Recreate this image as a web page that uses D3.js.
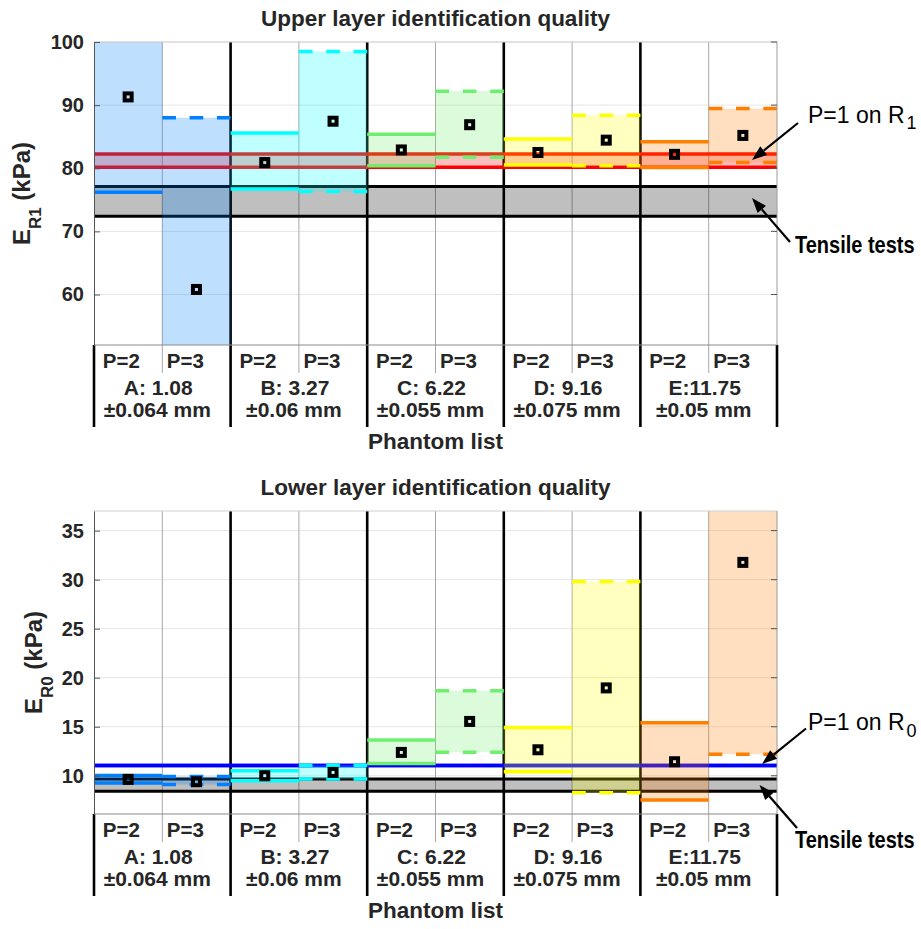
<!DOCTYPE html>
<html><head><meta charset="utf-8">
<script src="https://cdn.jsdelivr.net/npm/d3@7"></script>
<style>
html,body{margin:0;padding:0;background:#fff;}
svg{display:block;font-family:"Liberation Sans",Arial,sans-serif;}
</style></head>
<body>
<svg id="chart" width="921" height="929"></svg>
<script>
// ---------------- data ----------------
const groups = ["A","B","C","D","E"];
const orders = ["P=2","P=3"];
const groupLine1 = ["A: 1.08","B: 3.27","C: 6.22","D: 9.16","E:11.75"];
const groupLine2 = ["±0.064 mm","±0.06 mm","±0.055 mm","±0.075 mm","±0.05 mm"];
const groupColors = ["#0080ff","#00ffff","#6ef06e","#ffff00","#ff8000"];

const upperEst = [91.3, 60.8, 80.9, 87.45, 82.9, 86.9, 82.5, 84.45, 82.2, 85.2];
const upperLo  = [76.2, 48.0, 76.7, 76.3, 80.4, 81.75, 80.5, 80.4, 80.1, 80.9];
const upperHi  = [104.0, 88.0, 85.6, 98.5, 85.4, 92.2, 84.65, 88.4, 84.2, 89.45];
const upperTicks = [60, 70, 80, 90, 100];
const upperTensile = [72.4, 77.1];
const upperP1 = [80.15, 82.25];

const lowerEst = [9.63, 9.39, 10.0, 10.34, 12.38, 15.54, 12.65, 18.96, 11.43, 31.76];
const lowerLo  = [9.26, 9.1, 9.5, 9.66, 11.25, 12.41, 10.4, 8.27, 7.53, 12.2];
const lowerHi  = [10.02, 9.93, 10.5, 11.06, 13.64, 18.66, 14.93, 29.8, 15.4, 40.0];
const lowerTicks = [10, 15, 20, 25, 30, 35];
const lowerTensile = [8.41, 9.66];
const lowerP1 = [11.05, 11.05];

// ---------------- layout ----------------
const svg = d3.select("#chart");
const X0 = 94, X1 = 777;
const cols = groups.flatMap(g => orders.map(o => g + o));
const x = d3.scaleBand().domain(cols).range([X0, X1]).padding(0);
const gx = d3.scaleBand().domain(groups).range([X0, X1]).padding(0);
const TXT = "#262626";

const panels = [
  {top:42, bottom:345, domain:[52,100], ticks:upperTicks, est:upperEst, lo:upperLo, hi:upperHi,
   tensile:upperTensile, p1:upperP1, p1Color:"#ff0000", p1Fill:"rgba(255,0,0,0.25)",
   title:"Upper layer identification quality", ysub:"R1", ylabX:30, ysubDy:11,
   p1Label:{x:808, y:123.3, sub:"1", dy:6}, p1Arrow:[[798,123],[752,160]],
   tLabel:{x:795, y:253}, tArrow:[[790,242],[752,198]]},
  {top:511, bottom:814, domain:[6.1,37], ticks:lowerTicks, est:lowerEst, lo:lowerLo, hi:lowerHi,
   tensile:lowerTensile, p1:lowerP1, p1Color:"#0000ff", p1Fill:"rgba(0,0,255,0.25)",
   title:"Lower layer identification quality", ysub:"R0", ylabX:41.7, ysubDy:11,
   p1Label:{x:808, y:730, sub:"0", dy:6.5}, p1Arrow:[[806,728.5],[762,764]],
   tLabel:{x:795, y:848}, tArrow:[[797,828],[759.5,785]]}
];

function arrow(g, from, to) {
  const [x1,y1] = from, [x2,y2] = to;
  const ang = Math.atan2(y2-y1, x2-x1);
  const L = 15, W = 5.5;
  const bx = x2 - L*Math.cos(ang), by = y2 - L*Math.sin(ang);
  g.append("line").attr("x1",x1).attr("y1",y1).attr("x2",bx).attr("y2",by)
    .attr("stroke","#000").attr("stroke-width",2.2);
  const px = -Math.sin(ang), py = Math.cos(ang);
  g.append("path").attr("d",`M${x2},${y2}L${bx+px*W},${by+py*W}L${bx-px*W},${by-py*W}Z`)
    .attr("fill","#000");
}

panels.forEach((p, pi) => {
  const y = d3.scaleLinear().domain(p.domain).range([p.bottom, p.top]);
  const g = svg.append("g");
  const clipId = "clip" + pi;
  svg.append("defs").append("clipPath").attr("id", clipId)
    .append("rect").attr("x", X0).attr("y", p.top).attr("width", X1 - X0).attr("height", p.bottom - p.top);

  // horizontal grid
  g.append("g").selectAll("line").data(p.ticks).join("line")
    .attr("x1", X0).attr("x2", X1).attr("y1", d => y(d)).attr("y2", d => y(d))
    .attr("stroke", "#e6e6e6").attr("stroke-width", 1);

  // sub-dividers (between P=2 and P=3)
  g.append("g").selectAll("line").data(groups).join("line")
    .attr("x1", d => x(d + orders[1])).attr("x2", d => x(d + orders[1]))
    .attr("y1", p.top).attr("y2", p.bottom + 28)
    .attr("stroke", "#a8a8a8").attr("stroke-width", 1);

  // group dividers (thick black) including outer edges below plot
  g.append("g").selectAll("line").data(groups.slice(1)).join("line")
    .attr("x1", d => gx(d)).attr("x2", d => gx(d))
    .attr("y1", p.top).attr("y2", p.bottom + 82)
    .attr("stroke", "#000").attr("stroke-width", 2.6);
  g.append("g").selectAll("line").data([X0, X1]).join("line")
    .attr("x1", d => d).attr("x2", d => d)
    .attr("y1", p.bottom).attr("y2", p.bottom + 82)
    .attr("stroke", "#000").attr("stroke-width", 2.6);

  const c = g.append("g").attr("clip-path", `url(#${clipId})`);
  // tensile band
  c.append("rect").attr("x", X0).attr("width", X1 - X0)
    .attr("y", y(p.tensile[1])).attr("height", y(p.tensile[0]) - y(p.tensile[1]))
    .attr("fill", "rgba(0,0,0,0.25)");
  c.append("g").selectAll("line").data(p.tensile).join("line")
    .attr("x1", X0).attr("x2", X1).attr("y1", d => y(d)).attr("y2", d => y(d))
    .attr("stroke", "#000").attr("stroke-width", 3);
  // P=1 band
  c.append("rect").attr("x", X0).attr("width", X1 - X0)
    .attr("y", y(p.p1[1])).attr("height", Math.max(0, y(p.p1[0]) - y(p.p1[1])))
    .attr("fill", p.p1Fill);
  c.append("g").selectAll("line").data(p.p1).join("line")
    .attr("x1", X0).attr("x2", X1).attr("y1", d => y(d)).attr("y2", d => y(d))
    .attr("stroke", p.p1Color).attr("stroke-width", 3.5);

  // boxes
  const boxes = cols.map((k, i) => ({k, i, gi: Math.floor(i/2), dashed: i % 2 === 1,
    est: p.est[i], lo: p.lo[i], hi: p.hi[i]}));
  c.append("g").selectAll("rect").data(boxes).join("rect")
    .attr("x", d => x(d.k)).attr("width", x.bandwidth())
    .attr("y", d => y(d.hi)).attr("height", d => y(d.lo) - y(d.hi))
    .attr("fill", d => groupColors[d.gi]).attr("fill-opacity", 0.25);
  const edges = boxes.flatMap(d => [{...d, v: d.lo}, {...d, v: d.hi}]);
  c.append("g").selectAll("line").data(edges).join("line")
    .attr("x1", d => x(d.k)).attr("x2", d => x(d.k) + x.bandwidth())
    .attr("y1", d => y(d.v)).attr("y2", d => y(d.v))
    .attr("stroke", d => groupColors[d.gi]).attr("stroke-width", 3.5)
    .attr("stroke-dasharray", d => d.dashed ? `${x.bandwidth()/5},${x.bandwidth()/5}` : null);

  // axes frame
  g.append("line").attr("x1", X0).attr("x2", X1).attr("y1", p.top).attr("y2", p.top)
    .attr("stroke", "#d0d0d0").attr("stroke-width", 1);
  g.append("line").attr("x1", X0).attr("x2", X1).attr("y1", p.bottom).attr("y2", p.bottom)
    .attr("stroke", "#8a8a8a").attr("stroke-width", 1);
  g.append("line").attr("x1", X1).attr("x2", X1).attr("y1", p.top).attr("y2", p.bottom)
    .attr("stroke", "#9a9a9a").attr("stroke-width", 1);
  g.append("g").selectAll("line").data(p.ticks).join("line")
    .attr("x1", X1 - 6).attr("x2", X1).attr("y1", d => y(d)).attr("y2", d => y(d))
    .attr("stroke", "#555").attr("stroke-width", 1);

  // left y-axis with d3 axis
  const yAxis = d3.axisLeft(y).tickValues(p.ticks).tickSizeInner(-6).tickSizeOuter(0).tickPadding(10);
  const ya = g.append("g").attr("transform", `translate(${X0},0)`).call(yAxis);
  ya.select(".domain").attr("stroke", "#555").attr("stroke-width", 1);
  ya.selectAll(".tick line").attr("stroke", "#555");
  ya.selectAll(".tick text").attr("fill", TXT).attr("font-size", 20).attr("font-weight", "bold")
    .attr("font-family", '"Liberation Sans",Arial,sans-serif').attr("x", -10);

  // markers
  g.append("g").selectAll("rect").data(boxes.filter(d => d.est >= p.domain[0] && d.est <= p.domain[1])).join("rect")
    .attr("x", d => x(d.k) + x.bandwidth()/2 - 3.5).attr("y", d => y(d.est) - 3.5)
    .attr("width", 7).attr("height", 7)
    .attr("fill", "none").attr("stroke", "#000").attr("stroke-width", 4);

  // x-area labels
  const lab = g.append("g").attr("fill", TXT).attr("font-weight", "bold");
  lab.selectAll("text.p2").data(groups).join("text").attr("class","p2")
    .attr("x", d => gx(d) + gx.bandwidth()/2 - 41).attr("y", p.bottom + 23.3)
    .attr("text-anchor", "middle").attr("font-size", 20.5).text(orders[0]);
  lab.selectAll("text.p3").data(groups).join("text").attr("class","p3")
    .attr("x", d => gx(d) + gx.bandwidth()/2 + 23).attr("y", p.bottom + 23.3)
    .attr("text-anchor", "middle").attr("font-size", 20.5).text(orders[1]);
  lab.selectAll("text.l1").data(groups).join("text").attr("class","l1")
    .attr("x", d => gx(d) + gx.bandwidth()/2 - 4).attr("y", p.bottom + 50)
    .attr("text-anchor", "middle").attr("font-size", 21).text((d, i) => groupLine1[i]);
  lab.selectAll("text.l2").data(groups).join("text").attr("class","l2")
    .attr("x", d => gx(d) + gx.bandwidth()/2 - 5).attr("y", p.bottom + 72.3)
    .attr("text-anchor", "middle").attr("font-size", 21).text((d, i) => groupLine2[i]);
  lab.append("text").attr("x", (X0 + X1)/2).attr("y", p.bottom + 104)
    .attr("text-anchor", "middle").attr("font-size", 22.5).text("Phantom list");

  // title
  g.append("text").attr("x", (X0 + X1)/2).attr("y", p.top - 16)
    .attr("text-anchor", "middle").attr("font-size", 22.5).attr("font-weight", "bold")
    .attr("fill", TXT).text(p.title);

  // y label
  const yl = g.append("text").attr("transform", `translate(${p.ylabX},${(p.top + p.bottom)/2}) rotate(-90)`)
    .attr("text-anchor", "middle").attr("font-size", 24).attr("font-weight", "bold").attr("fill", TXT);
  yl.append("tspan").text("E");
  yl.append("tspan").attr("font-size", 17).attr("dy", p.ysubDy).text(p.ysub);
  yl.append("tspan").attr("dy", -p.ysubDy).text(" (kPa)");

  // annotations
  const an = g.append("g");
  const t1 = an.append("text").attr("x", p.p1Label.x).attr("y", p.p1Label.y)
    .attr("font-size", 23).attr("fill", "#000");
  t1.append("tspan").text("P=1 on R");
  t1.append("tspan").attr("font-size", 18).attr("dx", 2).attr("dy", p.p1Label.dy).text(p.p1Label.sub);
  arrow(an, p.p1Arrow[0], p.p1Arrow[1]);
  an.append("text").attr("transform", `translate(${p.tLabel.x},${p.tLabel.y}) scale(1,1.2)`)
    .attr("font-size", 20).attr("font-weight", "bold").attr("fill", "#000")
    .text("Tensile tests");
  arrow(an, p.tArrow[0], p.tArrow[1]);
});
</script>
</body></html>
